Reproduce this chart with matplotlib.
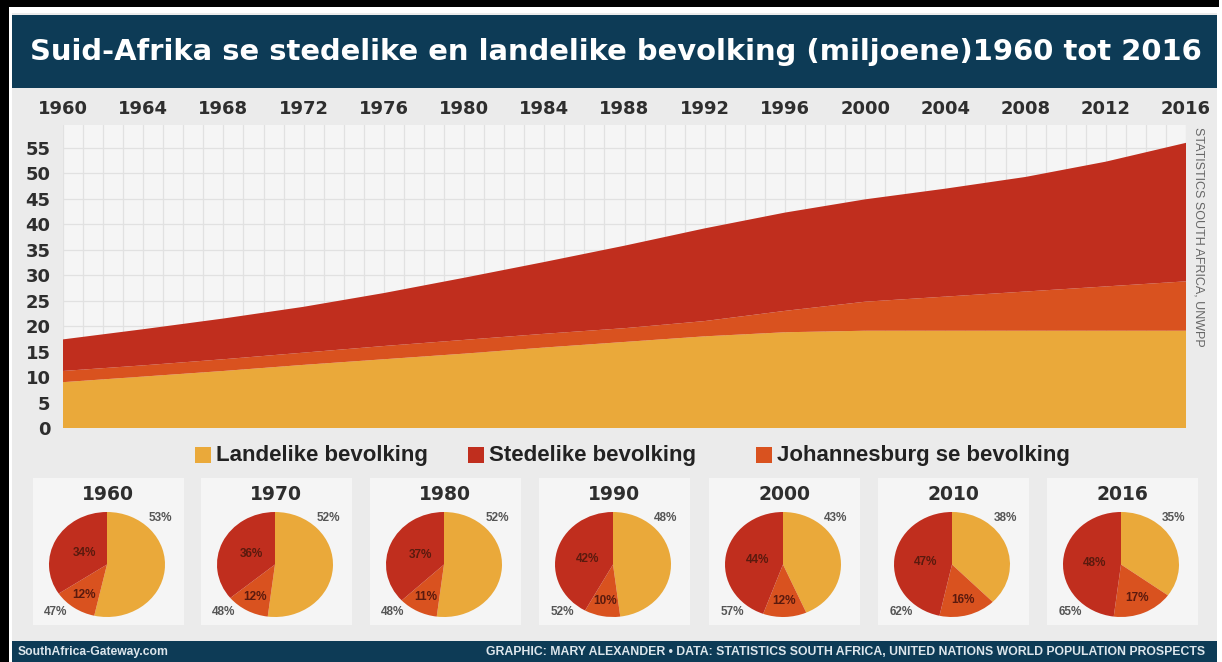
import matplotlib
matplotlib.use("Agg")
import matplotlib.pyplot as plt
from matplotlib.patches import Rectangle
import numpy as np

# ---------------- data ----------------
years = [1960, 1964, 1968, 1972, 1976, 1980, 1984, 1988, 1992, 1996, 2000, 2004, 2008, 2012, 2016]
rural = [9.0, 10.1, 11.2, 12.4, 13.5, 14.6, 15.8, 16.9, 18.0, 18.8, 19.1, 19.1, 19.1, 19.1, 19.1]
johannesburg = [2.2, 2.2, 2.3, 2.4, 2.6, 2.7, 2.7, 2.7, 3.0, 4.2, 5.7, 6.7, 7.7, 8.7, 9.7]
urban = [6.2, 7.1, 8.0, 9.0, 10.4, 12.2, 14.1, 16.2, 18.2, 19.3, 20.1, 21.2, 22.5, 24.5, 27.2]

pie_years = ["1960", "1970", "1980", "1990", "2000", "2010", "2016"]
pie_rural = [53, 52, 52, 48, 43, 38, 35]
pie_joburg = [12, 12, 11, 10, 12, 16, 17]
pie_urban = [34, 36, 37, 42, 44, 47, 48]
pie_urban_total = [47, 48, 48, 52, 57, 62, 65]

title = "Suid-Afrika se stedelike en landelike bevolking (miljoene)1960 tot 2016"
legend_labels = ["Landelike bevolking", "Stedelike bevolking", "Johannesburg se bevolking"]
source_side = "STATISTICS SOUTH AFRICA, UNWPP"
footer_left = "SouthAfrica-Gateway.com"
footer_right = "GRAPHIC: MARY ALEXANDER \u2022 DATA: STATISTICS SOUTH AFRICA, UNITED NATIONS WORLD POPULATION PROSPECTS"

# ---------------- style ----------------
C_RURAL = "#EAA93A"
C_JOBURG = "#D9521F"
C_URBAN = "#C02E1E"
NAVY = "#0D3B56"
TXT = "#2E2E2E"

W, H = 1222, 662
fig = plt.figure(figsize=(W / 100, H / 100), dpi=100)
fig.patch.set_facecolor("white")


def frect(x0, y0, x1, y1):
    return [x0 / W, 1 - y1 / H, (x1 - x0) / W, (y1 - y0) / H]


def patch(x0, y0, x1, y1, color, z=0):
    fig.add_artist(Rectangle((x0 / W, 1 - y1 / H), (x1 - x0) / W, (y1 - y0) / H,
                             transform=fig.transFigure, facecolor=color,
                             edgecolor="none", zorder=z))


def fx(x):
    return x / W


def fy(y):
    return 1 - y / H


# frame and panels
patch(0, 0, 1219, 662, "black", -10)
patch(9, 7, 1219, 662, "white", -9)
patch(12, 13, 1217, 662, "#EBEBEB", -8)
patch(12, 15, 1217, 88, NAVY, -7)
patch(12, 641, 1217, 662, NAVY, -7)

fig.text(fx(616), fy(52), title, ha="center", va="center", color="white",
         fontsize=20.9, fontweight="bold", family="DejaVu Sans")

# ---------------- area chart ----------------
ax = fig.add_axes(frect(63, 125, 1186, 428))
ax.set_facecolor("#F5F5F5")
ax.stackplot(years, rural, johannesburg, urban,
             colors=[C_RURAL, C_JOBURG, C_URBAN], linewidth=0)
ax.set_xlim(1960, 2016)
ax.set_ylim(0, 59.5)
ax.set_xticks(range(1960, 2017, 4))
ax.set_xticks(range(1960, 2017), minor=True)
ax.set_yticks(range(0, 56, 5))
ax.xaxis.tick_top()
ax.tick_params(axis="both", which="both", length=0)
ax.tick_params(axis="x", pad=5, labelsize=13, labelcolor=TXT)
ax.tick_params(axis="y", pad=9, labelsize=13, labelcolor=TXT)
for lab in ax.get_xticklabels() + ax.get_yticklabels():
    lab.set_fontweight("bold")
ax.set_axisbelow(True)
ax.grid(which="both", axis="x", color="#E1E1E1", linewidth=0.9)
ax.grid(which="major", axis="y", color="#E1E1E1", linewidth=0.9)
for s in ax.spines.values():
    s.set_visible(False)

fig.text(fx(1198), fy(237), source_side, rotation=-90, ha="center", va="center",
         color="#666666", fontsize=9, family="Liberation Sans")

# ---------------- legend ----------------
leg_items = [(195, C_RURAL, legend_labels[0]), (468, C_URBAN, legend_labels[1]),
             (756, C_JOBURG, legend_labels[2])]
for x0, col, lab in leg_items:
    patch(x0, 447, x0 + 16, 463, col, 1)
    fig.text(fx(x0 + 21), fy(455), lab, ha="left", va="center", color="#222222",
             fontsize=16, fontweight="bold", family="Liberation Sans")

# ---------------- pies ----------------
box_lefts = [33, 201, 370, 539, 709, 878, 1047]
for i, bl in enumerate(box_lefts):
    patch(bl, 478, bl + 151, 625, "#F5F5F5", -5)
    fig.text(fx(bl + 75), fy(494), pie_years[i], ha="center", va="center",
             color=TXT, fontsize=13.5, fontweight="bold")
    pax = fig.add_axes(frect(bl + 16, 512, bl + 132, 617))
    vals = [pie_rural[i], pie_joburg[i], pie_urban[i]]
    wedges, texts = pax.pie(vals, colors=[C_RURAL, C_JOBURG, C_URBAN], startangle=90,
                            counterclock=False, radius=1,
                            wedgeprops=dict(linewidth=0))
    pax.set_aspect("auto")
    pax.set_xlim(-1, 1)
    pax.set_ylim(-1, 1)
    pax.axis("off")
    for w, r, v in [(wedges[1], 0.7, pie_joburg[i]), (wedges[2], 0.45, pie_urban[i])]:
        ang = np.deg2rad((w.theta1 + w.theta2) / 2)
        pax.text(r * np.cos(ang), r * np.sin(ang), f"{v}%", ha="center", va="center",
                 color="#5A1A0E", fontsize=8.5, fontweight="bold", family="Liberation Sans")
    fig.text(fx(bl + 127), fy(518), f"{pie_rural[i]}%", ha="center", va="center",
             color="#555555", fontsize=8.5, fontweight="bold", family="Liberation Sans")
    fig.text(fx(bl + 23), fy(612), f"{pie_urban_total[i]}%", ha="center", va="center",
             color="#555555", fontsize=8.5, fontweight="bold", family="Liberation Sans")

# ---------------- footer ----------------
fig.text(fx(18), fy(652), footer_left, ha="left", va="center", color="#DDE6EC",
         fontsize=8.7, fontweight="bold", family="Liberation Sans")
fig.text(fx(1205), fy(652), footer_right, ha="right", va="center", color="#DDE6EC",
         fontsize=8.8, fontweight="bold", family="Liberation Sans")

fig.savefig("out.png", dpi=100, facecolor=fig.get_facecolor())
